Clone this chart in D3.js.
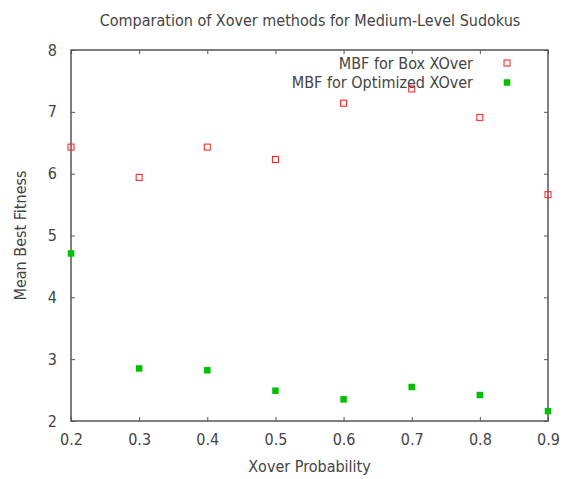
<!DOCTYPE html>
<html>
<head>
<meta charset="utf-8">
<script src="https://cdn.jsdelivr.net/npm/d3@7"></script>
<style>
  body { margin: 0; background: #fff; }
  text { font-family: 'DejaVu Sans Condensed', 'DejaVu Sans', sans-serif; font-stretch: condensed; fill: #444; }
</style>
</head>
<body>
<div id="chart"></div>
<script>
const probs = [0.2, 0.3, 0.4, 0.5, 0.6, 0.7, 0.8, 0.9]
const boxXover = [6.43, 5.94, 6.43, 6.23, 7.14, 7.37, 6.91, 5.66]
const optXover = [4.71, 2.85, 2.82, 2.49, 2.35, 2.55, 2.42, 2.16]
const xTicks = [0.2, 0.3, 0.4, 0.5, 0.6, 0.7, 0.8, 0.9]
const yTicks = [2, 3, 4, 5, 6, 7, 8]

const W = 563, H = 479
const margin = { top: 50, left: 71, right: 15, bottom: 58 }
const iw = W - margin.left - margin.right
const ih = H - margin.top - margin.bottom
const axisColor = '#555'
const textColor = '#444'
const fontSize = 16

const svg = d3.select('#chart').append('svg').attr('width', W).attr('height', H)
const g = svg.append('g').attr('transform', `translate(${margin.left}, ${margin.top})`)

const x = d3.scaleLinear().domain([0.2, 0.9]).range([0, iw])
const y = d3.scaleLinear().domain([2, 8]).range([ih, 0])

// axes, ticks pointing inward on all four sides
const fmt = d3.format('.1f')
g.append('g').attr('transform', `translate(0, ${ih})`)
  .call(d3.axisBottom(x).tickValues(xTicks).tickFormat(fmt).tickSizeInner(-4).tickSizeOuter(0).tickPadding(13))
g.append('g')
  .call(d3.axisTop(x).tickValues(xTicks).tickFormat('').tickSizeInner(-4).tickSizeOuter(0))
g.append('g')
  .call(d3.axisLeft(y).tickValues(yTicks).tickFormat(d3.format('d')).tickSizeInner(-4).tickSizeOuter(0).tickPadding(14))
g.append('g').attr('transform', `translate(${iw}, 0)`)
  .call(d3.axisRight(y).tickValues(yTicks).tickFormat('').tickSizeInner(-4).tickSizeOuter(0))

g.selectAll('.domain').remove()
g.selectAll('.tick line').attr('stroke', axisColor)
g.selectAll('.tick text').attr('font-size', fontSize).attr('fill', textColor)
  .attr('font-family', "'DejaVu Sans Condensed', 'DejaVu Sans', sans-serif")

g.append('rect').attr('width', iw).attr('height', ih)
  .attr('fill', 'none').attr('stroke', axisColor).attr('stroke-width', 1.5)

// series
const box = probs.map((p, i) => ({ p, v: boxXover[i] }))
const opt = probs.map((p, i) => ({ p, v: optXover[i] }))

g.selectAll('.box').data(box).enter().append('rect')
  .attr('x', d => x(d.p) - 3).attr('y', d => y(d.v) - 3)
  .attr('width', 6).attr('height', 6)
  .attr('fill', 'none').attr('stroke', '#ff1a1a').attr('stroke-width', 1)

g.selectAll('.opt').data(opt).enter().append('rect')
  .attr('x', d => x(d.p) - 3.25).attr('y', d => y(d.v) - 3.25)
  .attr('width', 6.5).attr('height', 6.5)
  .attr('fill', '#00c000')

// legend
const legend = [
  { name: 'MBF for Box XOver', filled: false },
  { name: 'MBF for Optimized XOver', filled: true }
]
const lg = g.selectAll('.legend').data(legend).enter().append('g')
  .attr('transform', (d, i) => `translate(${iw - 75}, ${13 + i * 19.5})`)
lg.append('text').attr('text-anchor', 'end').attr('dy', '0.35em')
  .attr('font-size', fontSize).text(d => d.name)
lg.append('rect')
  .attr('x', d => d.filled ? 30.75 : 31).attr('y', d => d.filled ? -3.25 : -3)
  .attr('width', d => d.filled ? 6.5 : 6).attr('height', d => d.filled ? 6.5 : 6)
  .attr('fill', d => d.filled ? '#00c000' : 'none')
  .attr('stroke', d => d.filled ? 'none' : '#ff1a1a')

// titles
svg.append('text').attr('x', 310).attr('y', 26).attr('text-anchor', 'middle')
  .attr('font-size', fontSize).text('Comparation of Xover methods for Medium-Level Sudokus')
svg.append('text').attr('x', margin.left + iw / 2).attr('y', 472).attr('text-anchor', 'middle')
  .attr('font-size', fontSize).text('Xover Probability')
svg.append('text').attr('transform', `translate(26, ${margin.top + ih / 2}) rotate(-90)`)
  .attr('text-anchor', 'middle').attr('font-size', fontSize).text('Mean Best Fitness')
</script>
</body>
</html>
